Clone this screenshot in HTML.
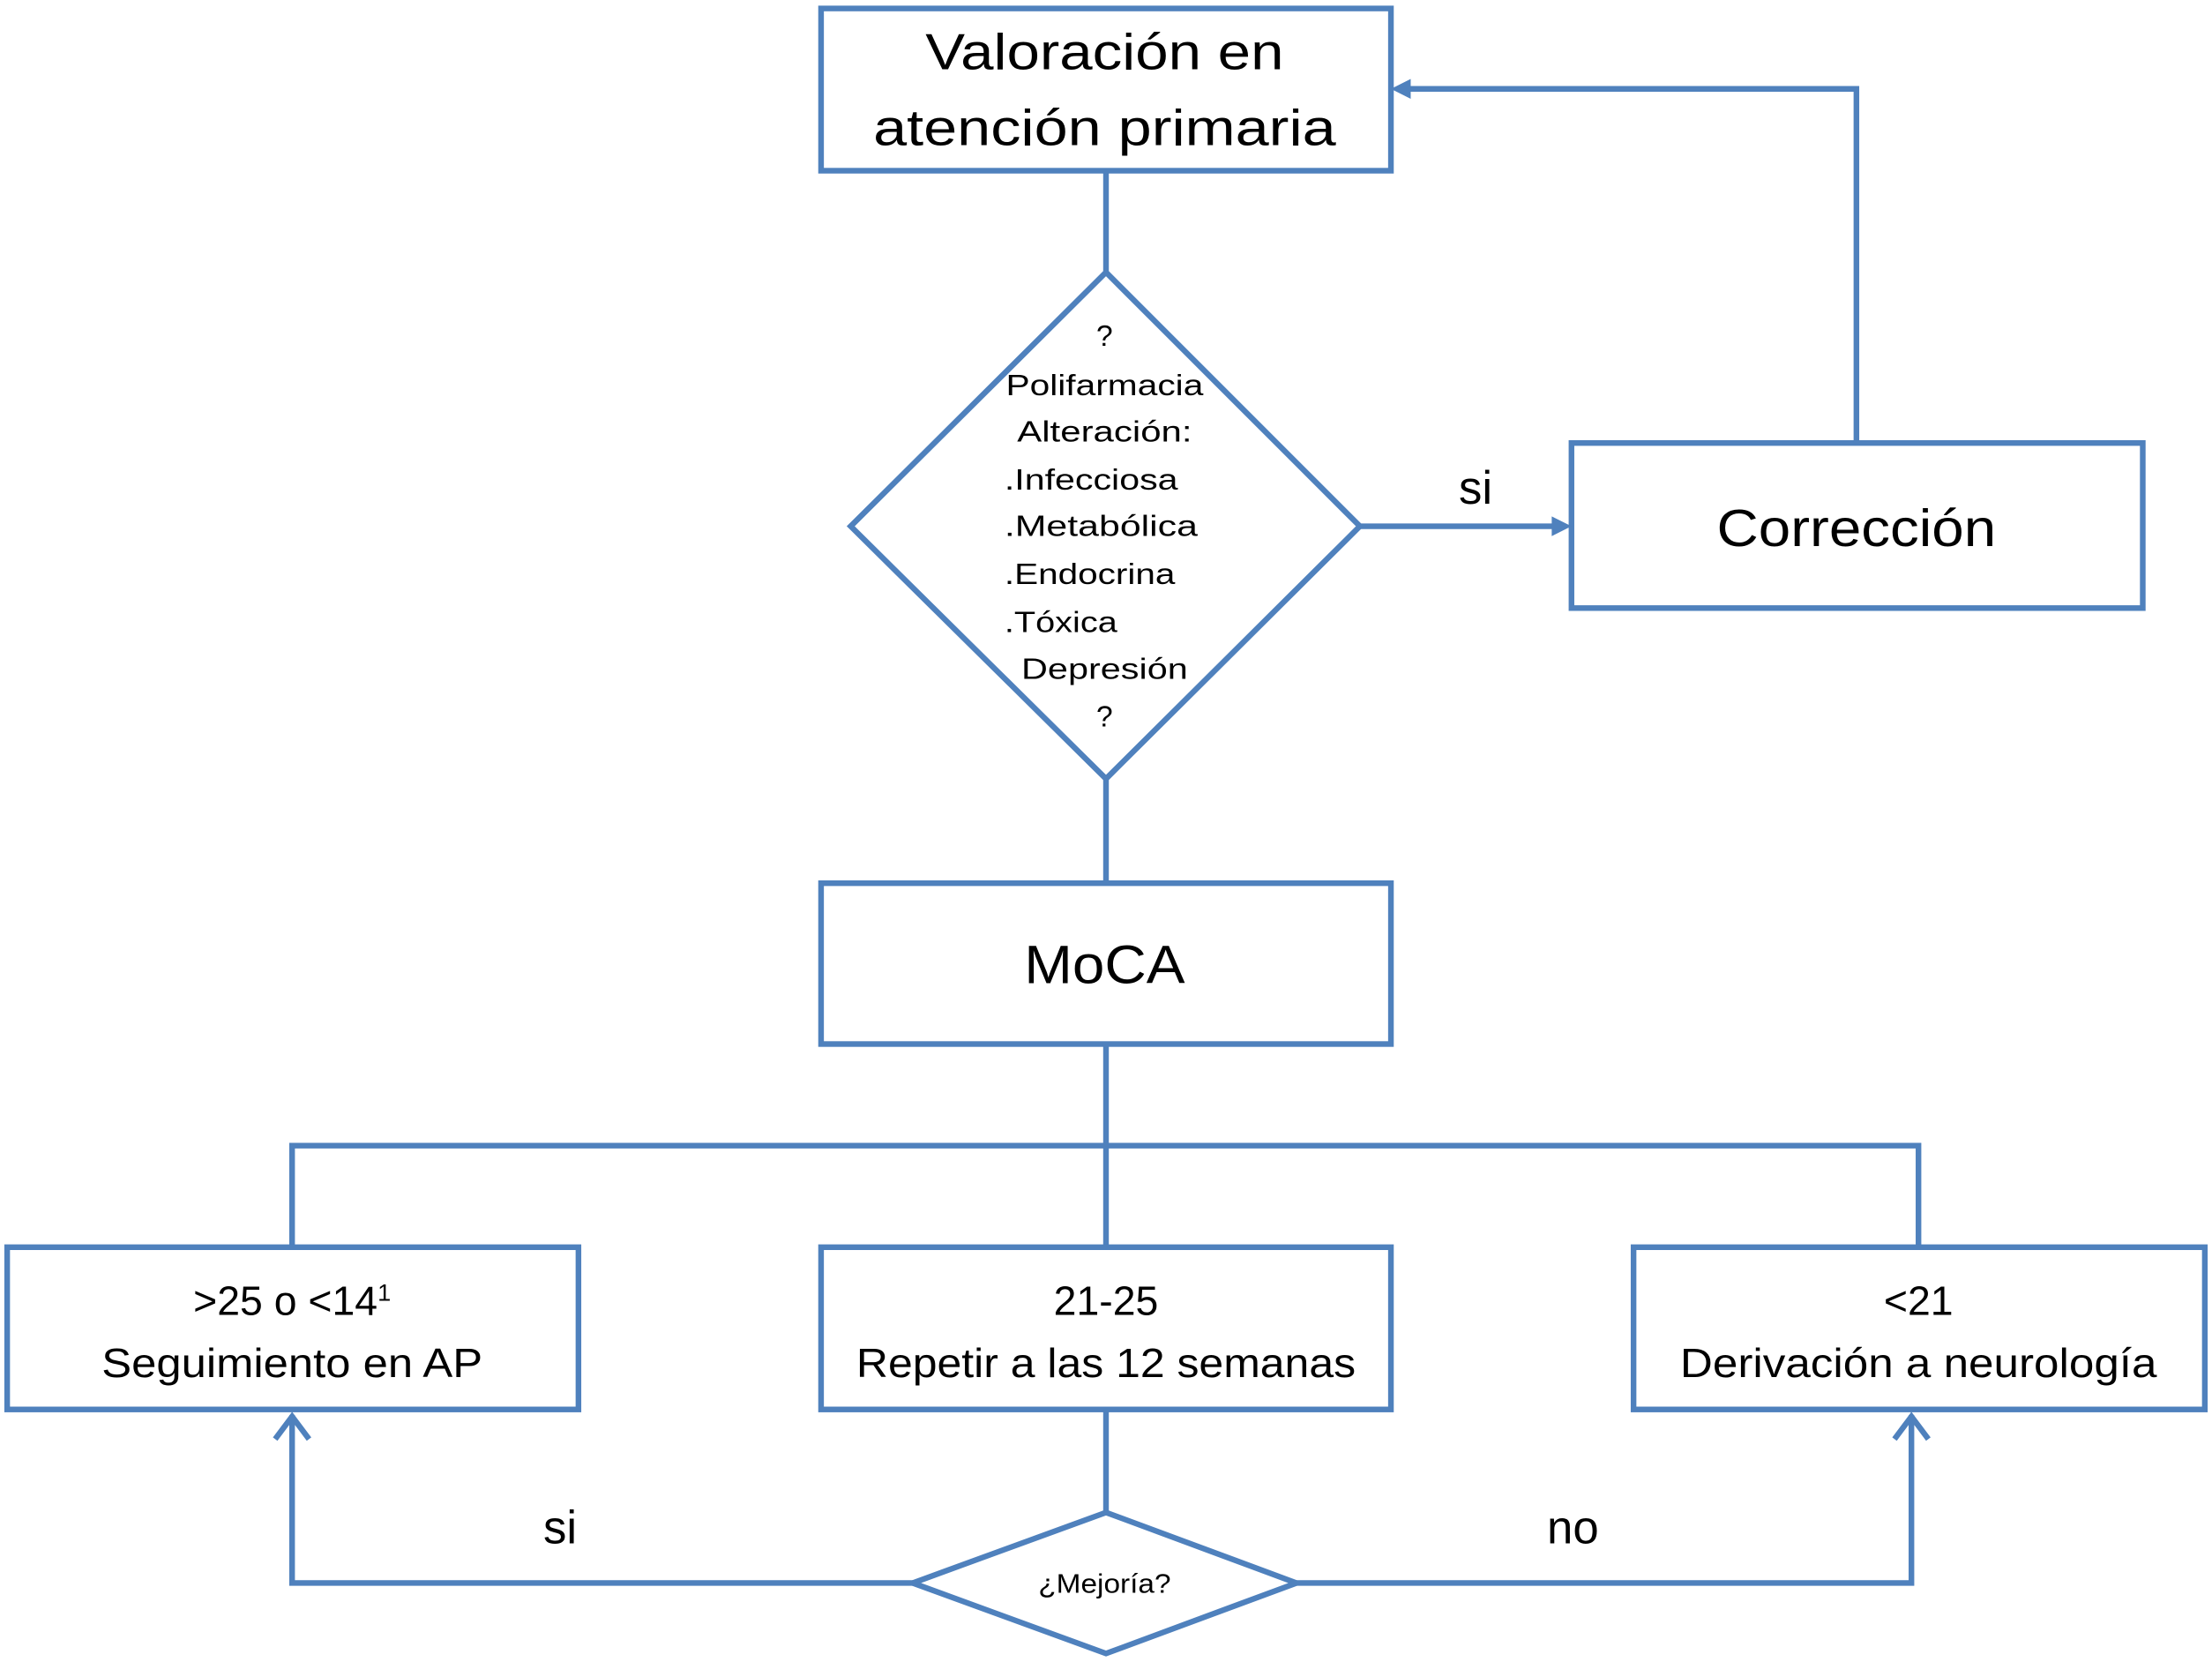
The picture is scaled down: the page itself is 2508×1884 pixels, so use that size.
<!DOCTYPE html>
<html><head><meta charset="utf-8"><style>html,body{margin:0;padding:0;background:#fff}svg{display:block}</style></head><body>
<svg width="2508" height="1884" viewBox="0 0 1568 1178" xmlns="http://www.w3.org/2000/svg" font-family="Liberation Sans, sans-serif" fill="#000">
<g fill="none" stroke="#4f81bd" stroke-width="4" stroke-linejoin="miter">
<rect x="582" y="6" width="404" height="115"/>
<line x1="784" y1="121" x2="784" y2="193"/>
<polygon points="784,193 964,373 784,552 603,373" fill="#fff"/>
<line x1="964" y1="373" x2="1104" y2="373"/>
<rect x="1114" y="314" width="405" height="117"/>
<polyline points="1316,314 1316,63 996,63"/>
<line x1="784" y1="552" x2="784" y2="626"/>
<rect x="582" y="626" width="404" height="114"/>
<line x1="784" y1="740" x2="784" y2="884"/>
<polyline points="207,884 207,812 1360,812 1360,884"/>
<rect x="5" y="884" width="405" height="115"/>
<rect x="582" y="884" width="404" height="115"/>
<rect x="1158" y="884" width="405" height="115"/>
<line x1="784" y1="999" x2="784" y2="1072"/>
<polygon points="784,1072 919,1122 784,1172 647,1122" fill="#fff"/>
<polyline points="647,1122 207,1122 207,1003"/>
<polyline points="195,1020 207,1004 219,1020"/>
<polyline points="919,1122 1355,1122 1355,1003"/>
<polyline points="1343,1020 1355,1004 1367,1020"/>
</g>
<polygon points="1114,373 1100,366 1100,380" fill="#4f81bd"/>
<polygon points="986,63 1000,56 1000,70" fill="#4f81bd"/>
<g text-anchor="middle">
<text x="783" y="49" font-size="36" textLength="254" lengthAdjust="spacingAndGlyphs">Valoración en</text>
<text x="783" y="103" font-size="36" textLength="328" lengthAdjust="spacingAndGlyphs">atención primaria</text>
<text x="1316" y="387" font-size="37" textLength="198" lengthAdjust="spacingAndGlyphs">Corrección</text>
<text x="783" y="697" font-size="38" textLength="114" lengthAdjust="spacingAndGlyphs">MoCA</text>
<text x="1046" y="357" font-size="33">si</text>
<text x="397" y="1094" font-size="33">si</text>
<text x="1115" y="1094" font-size="33">no</text>
<g font-size="21">
<text x="783" y="245">?</text>
<text x="783" y="280" textLength="140" lengthAdjust="spacingAndGlyphs">Polifarmacia</text>
<text x="783" y="313" textLength="124" lengthAdjust="spacingAndGlyphs">Alteración:</text>
<text x="783" y="481" textLength="118" lengthAdjust="spacingAndGlyphs">Depresión</text>
<text x="783" y="515">?</text>
</g>
<g font-size="29">
<text x="207" y="932"><tspan>&gt;25 o &lt;14</tspan><tspan font-size="17" dy="-10">1</tspan></text>
<text x="207" y="976" textLength="270" lengthAdjust="spacingAndGlyphs">Seguimiento en AP</text>
<text x="784" y="932">21-25</text>
<text x="784" y="976" textLength="354" lengthAdjust="spacingAndGlyphs">Repetir a las 12 semanas</text>
<text x="1360" y="932">&lt;21</text>
<text x="1360" y="976" textLength="338" lengthAdjust="spacingAndGlyphs">Derivación a neurología</text>
</g>
<text x="783" y="1129" font-size="19" textLength="94" lengthAdjust="spacingAndGlyphs">¿Mejoría?</text>
</g>
<g font-size="21">
<text x="712" y="347" textLength="123" lengthAdjust="spacingAndGlyphs">.Infecciosa</text>
<text x="712" y="380" textLength="137" lengthAdjust="spacingAndGlyphs">.Metabólica</text>
<text x="712" y="414" textLength="121" lengthAdjust="spacingAndGlyphs">.Endocrina</text>
<text x="712" y="448" textLength="80" lengthAdjust="spacingAndGlyphs">.Tóxica</text>
</g>
</svg>
</body></html>
